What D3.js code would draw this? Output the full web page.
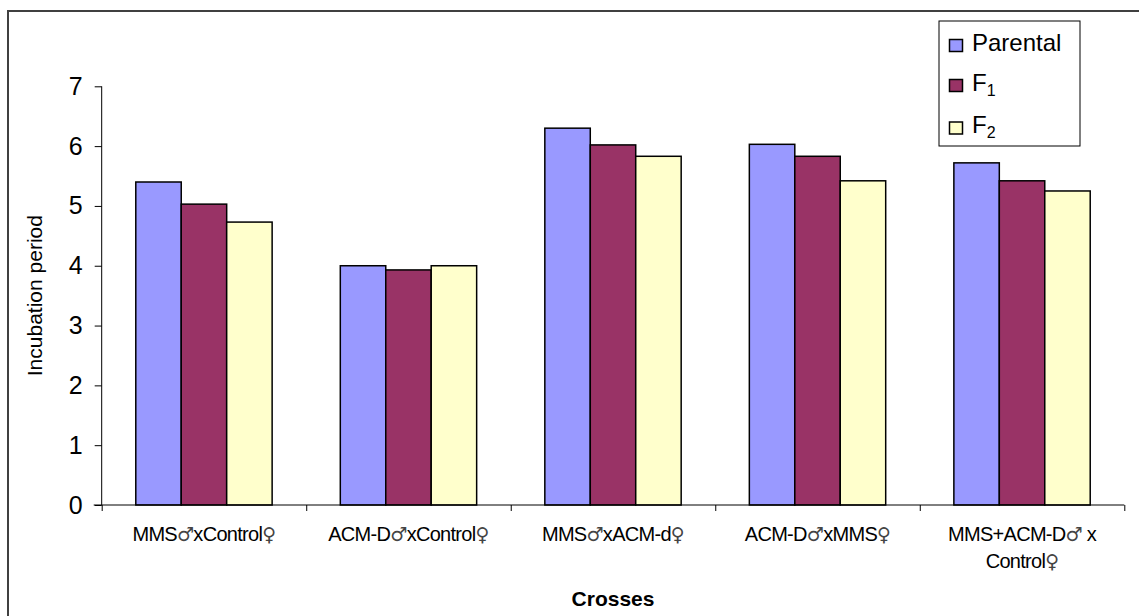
<!DOCTYPE html>
<html><head><meta charset="utf-8">
<script src="https://cdn.jsdelivr.net/npm/d3@7"></script>
<style>
html,body{margin:0;padding:0;background:#fff;}
svg{display:block;font-family:"Liberation Sans",Arial,sans-serif;}
</style></head>
<body>
<svg id="chart" width="1139" height="616"></svg>
<script>
const categories = [["MMS♂xControl♀"],["ACM-D♂xControl♀"],["MMS♂xACM-d♀"],["ACM-D♂xMMS♀"],["MMS+ACM-D♂ x","Control♀"]];
const seriesNames = ["Parental","F1","F2"];
const parental = [5.40, 4.00, 6.30, 6.03, 5.72];
const f1 = [5.03, 3.93, 6.02, 5.83, 5.42];
const f2 = [4.73, 4.00, 5.83, 5.42, 5.25];
const yTicks = [0,1,2,3,4,5,6,7];
const colors = ["#9999FF","#993366","#FFFFCC"];

const svg = d3.select("#chart");
const L = 101.7, R = 1124.3, T = 86.3, B = 505;

// outer frame (extends beyond viewport on right/bottom)
svg.append("rect").attr("x",8).attr("y",11).attr("width",1200).attr("height",700)
  .attr("fill","#fff").attr("stroke","#404040").attr("stroke-width",2);

const catIdx = categories.map((d,i)=>i);
const x0 = d3.scaleBand().domain(catIdx).range([L,R]).paddingInner(0).paddingOuter(0);
const x1 = d3.scaleBand().domain([0,1,2]).range([0,x0.bandwidth()]).paddingInner(0).paddingOuter(0.75);
const y = d3.scaleLinear().domain([0,7]).range([B,T]);

const data = [parental,f1,f2];

// bars
const g = svg.append("g");
catIdx.forEach(ci=>{
  data.forEach((s,si)=>{
    g.append("rect")
      .attr("x", x0(ci)+x1(si))
      .attr("y", y(s[ci]))
      .attr("width", x1.bandwidth())
      .attr("height", y(0)-y(s[ci]))
      .attr("fill", colors[si])
      .attr("stroke","#000").attr("stroke-width",1.5);
  });
});

// y axis
const yAxis = d3.axisLeft(y).tickValues(yTicks).tickSize(7).tickPadding(12).tickFormat(d3.format("d"));
const ya = svg.append("g").attr("transform",`translate(${L},0)`).call(yAxis);
ya.select(".domain").attr("stroke","#000").attr("d",`M0,${T}V${B}`);
ya.selectAll(".tick line").attr("stroke","#000");
ya.selectAll("text").attr("font-size",25).attr("fill","#000").attr("font-family","Liberation Sans, Arial, sans-serif");

// x axis
const xTickScale = d3.scaleLinear().domain([0,5]).range([L,R]);
const xa = svg.append("g").attr("transform",`translate(0,${B})`)
  .call(d3.axisBottom(xTickScale).tickValues([0,1,2,3,4,5]).tickSize(6).tickFormat(""));
xa.select(".domain").attr("stroke","#000").attr("d",`M${L-8},0H${R}`);
xa.selectAll(".tick line").attr("stroke","#000");

// category labels (gender symbols drawn with DejaVu Sans glyphs)
function addLine(t, line, cx, dy){
  const ts = t.append("tspan").attr("x",cx).attr("dy",dy);
  line.split(/([♂♀])/).filter(p=>p.length).forEach(p=>{
    const s = ts.append("tspan").text(p);
    if(p==="♂"||p==="♀") s.attr("font-family","DejaVu Sans").attr("font-size",19).attr("fill","#444");
  });
}
catIdx.forEach(ci=>{
  const cx = x0(ci)+x0.bandwidth()/2;
  const t = svg.append("text").attr("x",cx).attr("y",541).attr("text-anchor","middle")
    .attr("font-size",20).attr("letter-spacing","-0.7").attr("fill","#000");
  categories[ci].forEach((line,li)=> addLine(t, line, cx, li===0?0:27));
});

// axis titles
svg.append("text").attr("x",(L+R)/2).attr("y",606).attr("text-anchor","middle")
  .attr("font-size",21).attr("font-weight","bold").text("Crosses");
svg.append("text").attr("transform",`translate(42,${(T+B)/2}) rotate(-90)`).attr("text-anchor","middle")
  .attr("font-size",21).text("Incubation period");

// legend
const lg = svg.append("g");
lg.append("rect").attr("x",939).attr("y",21).attr("width",141).attr("height",125)
  .attr("fill","#fff").attr("stroke","#000").attr("stroke-width",1);
const legY = [39.5,79.5,122];
seriesNames.forEach((n,i)=>{
  lg.append("rect").attr("x",949.5).attr("y",legY[i]).attr("width",13).attr("height",12)
    .attr("fill",colors[i]).attr("stroke","#000").attr("stroke-width",1.5);
  const t = lg.append("text").attr("x",972).attr("y",legY[i]+11).attr("font-size",24).attr("fill","#000");
  if(n==="Parental"){ t.text(n); }
  else {
    t.append("tspan").text(n[0]);
    t.append("tspan").attr("font-size",16).attr("dy",5).text(n.slice(1));
  }
});
</script>
</body></html>
